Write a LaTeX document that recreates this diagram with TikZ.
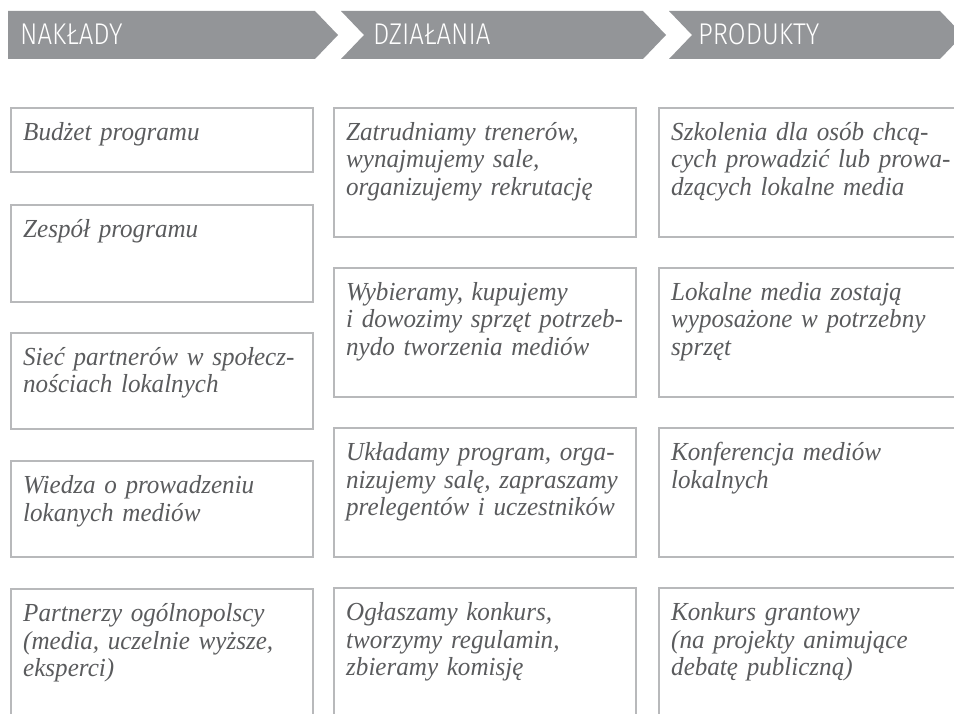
\documentclass[tikz,border=0pt]{standalone}
\usepackage{fontspec}
\setmainfont{Liberation Serif}[FakeStretch=0.965]
\newfontfamily\stagefont{Fira Sans Light}[FakeStretch=0.86]
\usepackage{tikz}
\usetikzlibrary{positioning}

\definecolor{headgray}{HTML}{939598}
\definecolor{boxgray}{HTML}{B8B9BB}
\definecolor{textgray}{HTML}{5A5B5D}

\newcommand\cellfont{\fontsize{26}{27.5}\selectfont\itshape}
\newcommand\headfont{\fontsize{30}{31}\selectfont\stagefont}

\begin{document}
\begin{tikzpicture}[x=1pt,y=-1pt,
  box/.style={draw=boxgray,line width=2.4pt,anchor=north west,inner sep=0pt,
    outer sep=0pt,minimum width=302pt},
  cell/.style={anchor=base west,inner sep=0pt,text width=300pt,align=left,
    text=textgray,font=\cellfont},
  stage/.style={anchor=base west,inner sep=0pt,text=white,font=\headfont}]

  \useasboundingbox (0,0) rectangle (954,714);
  \clip (0,0) rectangle (954,714);

  \def \dx {12}
  \def \dy {32.5}

  % header arrows
  \fill[headgray] (8,11) -- (315,11) -- (338,35) -- (315,59) -- (8,59) -- cycle;
  \foreach \a/\b in {341/643, 669/940}
    \fill[headgray] (\a,11) -- (\b,11) -- (\b+23,35) -- (\b,59) -- (\a,59)
      -- (\a+23,35) -- cycle;
  \node[stage] (naklady)   at (20,45)  {NAKŁADY};
  \node[stage] (dzialania) at (373,45) {DZIAŁANIA};
  \node[stage] (produkty)  at (698,45) {PRODUKTY};

  % inputs
  \node[box,minimum height=64pt]  (n1) at (11,108) {};
  \node[box,minimum height=97pt]  (n2) at (11,205) {};
  \node[box,minimum height=96pt]  (n3) at (11,333) {};
  \node[box,minimum height=96pt]  (n4) at (11,461) {};
  \node[box,minimum height=140pt] (n5) at (11,589) {};
  \node[cell] (n1t) at ([shift={(\dx,\dy)}]n1.north west) {Budżet programu};
  \node[cell] (n2t) at ([shift={(\dx,\dy)}]n2.north west) {Zespół programu};
  \node[cell] (n3t) at ([shift={(\dx,\dy)}]n3.north west)
    {Sieć partnerów w społecz-\\nościach lokalnych};
  \node[cell] (n4t) at ([shift={(\dx,\dy)}]n4.north west)
    {Wiedza o prowadzeniu\\lokanych mediów};
  \node[cell] (n5t) at ([shift={(\dx,\dy)}]n5.north west)
    {Partnerzy ogólnopolscy\\(media, uczelnie wyższe,\\eksperci)};

  % activities
  \node[box,minimum height=129pt] (d1) at (334,108) {};
  \node[box,minimum height=129pt] (d2) at (334,268) {};
  \node[box,minimum height=129pt] (d3) at (334,428) {};
  \node[box,minimum height=140pt] (d4) at (334,588) {};
  \node[cell] (d1t) at ([shift={(\dx,\dy)}]d1.north west)
    {Zatrudniamy trenerów,\\wynajmujemy sale,\\organizujemy rekrutację};
  \node[cell] (d2t) at ([shift={(\dx,\dy)}]d2.north west)
    {Wybieramy, kupujemy\\i dowozimy sprzęt potrzeb-\\nydo tworzenia mediów};
  \node[cell] (d3t) at ([shift={(\dx,\dy)}]d3.north west)
    {Układamy program, orga-\\nizujemy salę, zapraszamy\\prelegentów i uczestników};
  \node[cell] (d4t) at ([shift={(\dx,\dy)}]d4.north west)
    {Ogłaszamy konkurs,\\tworzymy regulamin,\\zbieramy komisję};

  % products
  \node[box,minimum height=129pt] (p1) at (659,108) {};
  \node[box,minimum height=129pt] (p2) at (659,268) {};
  \node[box,minimum height=129pt] (p3) at (659,428) {};
  \node[box,minimum height=140pt] (p4) at (659,588) {};
  \node[cell] (p1t) at ([shift={(\dx,\dy)}]p1.north west)
    {Szkolenia dla osób chcą-\\cych prowadzić lub prowa-\\dzących lokalne media};
  \node[cell] (p2t) at ([shift={(\dx,\dy)}]p2.north west)
    {Lokalne media zostają\\wyposażone w potrzebny\\sprzęt};
  \node[cell] (p3t) at ([shift={(\dx,\dy)}]p3.north west)
    {Konferencja mediów\\lokalnych};
  \node[cell] (p4t) at ([shift={(\dx,\dy)}]p4.north west)
    {Konkurs grantowy\\(na projekty animujące\\debatę publiczną)};
\end{tikzpicture}
\end{document}
